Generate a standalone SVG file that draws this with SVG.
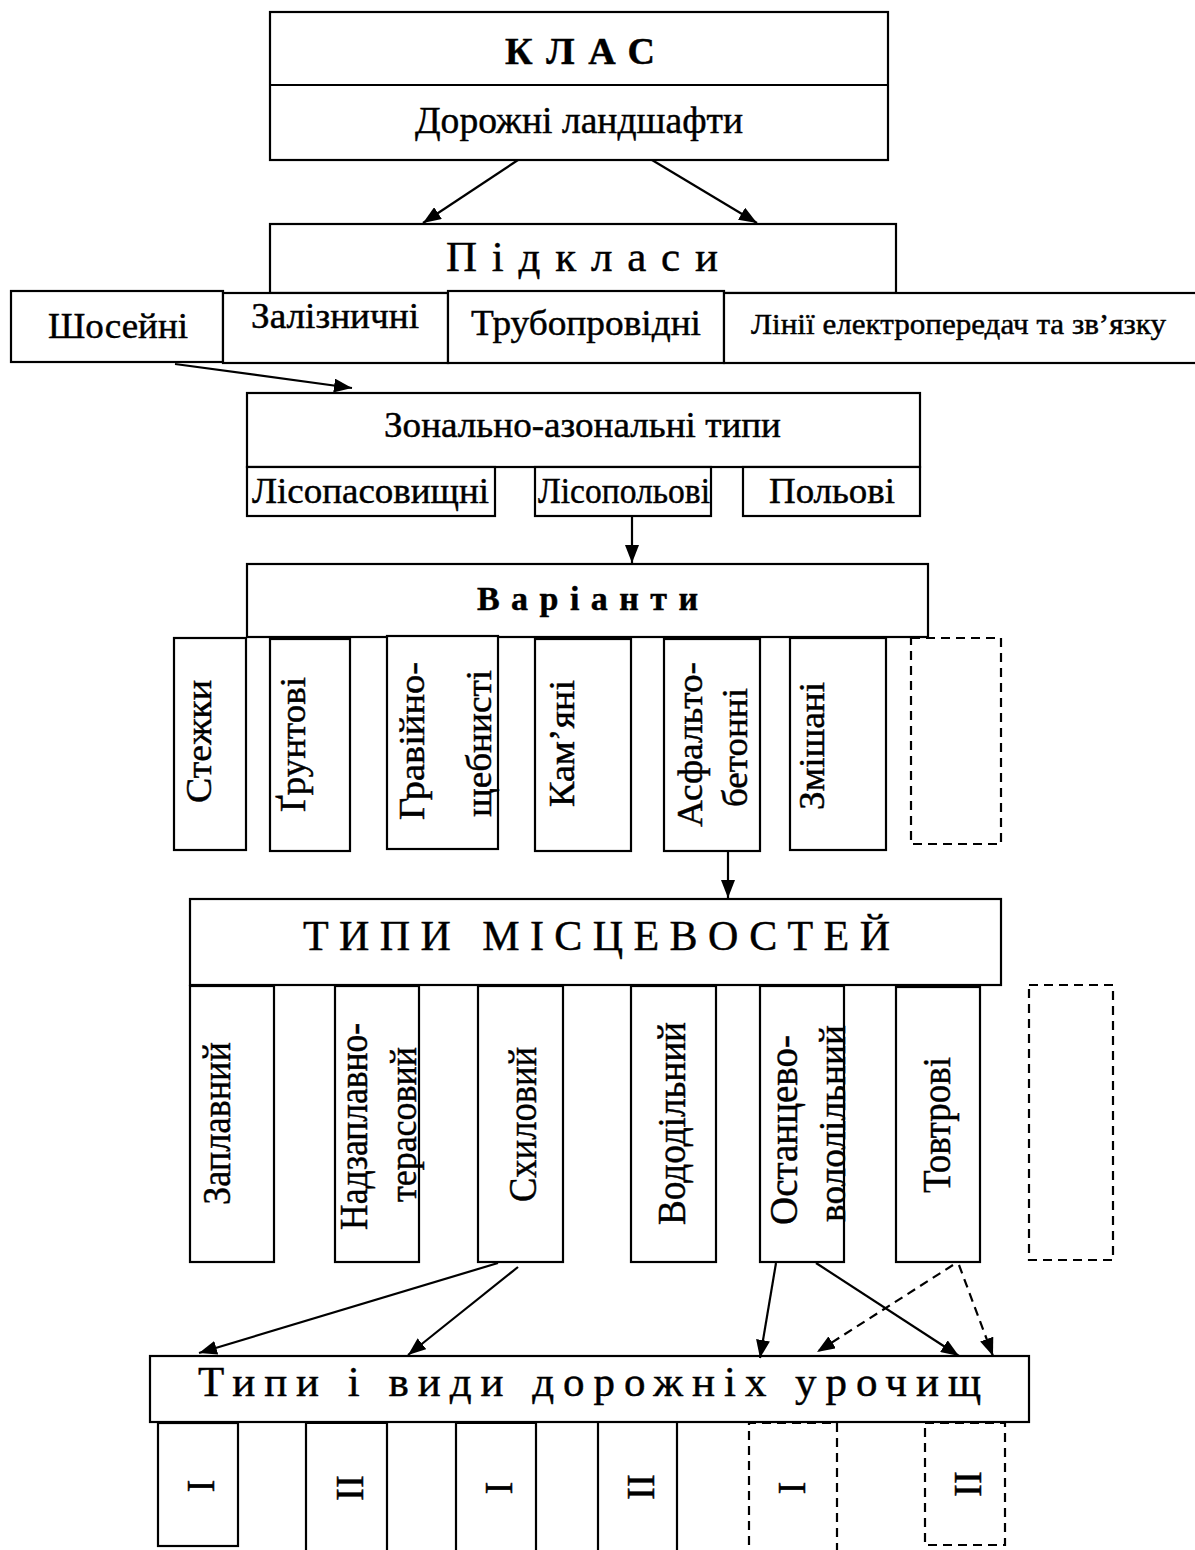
<svg xmlns="http://www.w3.org/2000/svg" width="1195" height="1550" viewBox="0 0 1195 1550">
  <style>
    .box { fill: #fff; stroke: #000; stroke-width: 2.2; }
    .dbox { fill: none; stroke: #000; stroke-width: 2.2; stroke-dasharray: 9 6; }
    .edge { fill: none; stroke: #000; stroke-width: 2.2; }
    .dedge { fill: none; stroke: #000; stroke-width: 2.2; stroke-dasharray: 9 6; }
    text { font-family: "Liberation Serif", "Times New Roman", serif; fill: #000; stroke: #000; stroke-width: 0.45; }
    .b { font-weight: bold; }
  </style>
  <defs>
    <marker id="ah" viewBox="0 0 18 14" refX="18" refY="7" markerWidth="18" markerHeight="14" markerUnits="userSpaceOnUse" orient="auto">
      <path d="M0,0 L18,7 L0,14 Z" fill="#000"/>
    </marker>
  </defs>

  <!-- class -->
  <g id="klas">
    <rect class="box" x="270" y="12" width="618" height="148"/>
    <line class="edge" x1="270" y1="85" x2="888" y2="85"/>
    <text class="b" x="505" y="64" font-size="38" letter-spacing="8" textLength="158" lengthAdjust="spacing">КЛАС</text>
    <text x="415" y="133" font-size="38" textLength="328" lengthAdjust="spacingAndGlyphs">Дорожні ландшафти</text>
  </g>

  <!-- subclasses -->
  <g id="pidklasy">
    <rect class="box" x="270" y="224" width="626" height="69"/>
    <text x="446" y="271" font-size="43" letter-spacing="12" textLength="284" lengthAdjust="spacing">Підкласи</text>
  </g>
  <g id="shoseini">
    <rect class="box" x="11" y="291" width="212" height="71"/>
    <text x="48" y="338" font-size="36" textLength="140" lengthAdjust="spacingAndGlyphs">Шосейні</text>
  </g>
  <g id="zaliznychni">
    <rect class="box" x="223" y="293" width="225" height="70"/>
    <text x="251" y="328" font-size="35" textLength="168" lengthAdjust="spacingAndGlyphs">Залізничні</text>
  </g>
  <g id="truboprovidni">
    <rect class="box" x="448" y="291" width="276" height="72"/>
    <text x="471" y="335" font-size="36" textLength="230" lengthAdjust="spacingAndGlyphs">Трубопровідні</text>
  </g>
  <g id="linii">
    <rect class="box" x="724" y="293" width="480" height="70"/>
    <text x="751" y="334" font-size="29" textLength="415" lengthAdjust="spacingAndGlyphs">Лінії електропередач та зв’язку</text>
  </g>

  <!-- zonal-azonal types -->
  <g id="zonalni">
    <rect class="box" x="247" y="393" width="673" height="74"/>
    <text x="384" y="437" font-size="36" textLength="397" lengthAdjust="spacingAndGlyphs">Зонально-азональні типи</text>
  </g>
  <g id="lisopasovyshchni">
    <rect class="box" x="247" y="467" width="248" height="49"/>
    <text x="252" y="503" font-size="36" textLength="237" lengthAdjust="spacingAndGlyphs">Лісопасовищні</text>
  </g>
  <g id="lisopolovi">
    <rect class="box" x="535" y="467" width="176" height="49"/>
    <text x="538" y="503" font-size="36" textLength="172" lengthAdjust="spacingAndGlyphs">Лісопольові</text>
  </g>
  <g id="polovi">
    <rect class="box" x="743" y="467" width="177" height="49"/>
    <text x="769" y="503" font-size="36" textLength="126" lengthAdjust="spacingAndGlyphs">Польові</text>
  </g>

  <!-- variants -->
  <g id="varianty">
    <rect class="box" x="247" y="564" width="681" height="73"/>
    <text class="b" x="477" y="610" font-size="34" letter-spacing="6" textLength="227" lengthAdjust="spacing">Варіанти</text>
  </g>
  <g id="stezhky">
    <rect class="box" x="174" y="638" width="72" height="212"/>
    <text transform="translate(211,803) rotate(-90)" font-size="36" textLength="123" lengthAdjust="spacingAndGlyphs">Стежки</text>
  </g>
  <g id="gruntovi">
    <rect class="box" x="270" y="639" width="80" height="212"/>
    <text transform="translate(305,812) rotate(-90)" font-size="36" textLength="135" lengthAdjust="spacingAndGlyphs">Ґрунтові</text>
  </g>
  <g id="graviino">
    <rect class="box" x="387" y="636" width="111" height="213"/>
    <text transform="translate(424,820) rotate(-90)" font-size="36" textLength="158" lengthAdjust="spacingAndGlyphs">Гравійно-</text>
    <text transform="translate(491,817) rotate(-90)" font-size="36" textLength="147" lengthAdjust="spacingAndGlyphs">щебнисті</text>
  </g>
  <g id="kamiani">
    <rect class="box" x="535" y="639" width="96" height="212"/>
    <text transform="translate(574,807) rotate(-90)" font-size="36" textLength="127" lengthAdjust="spacingAndGlyphs">Кам’яні</text>
  </g>
  <g id="asfalto">
    <rect class="box" x="664" y="639" width="96" height="212"/>
    <text transform="translate(702,827) rotate(-90)" font-size="36" textLength="165" lengthAdjust="spacingAndGlyphs">Асфальто-</text>
    <text transform="translate(747,807) rotate(-90)" font-size="36" textLength="119" lengthAdjust="spacingAndGlyphs">бетонні</text>
  </g>
  <g id="zmishani">
    <rect class="box" x="790" y="638" width="96" height="212"/>
    <text transform="translate(824,810) rotate(-90)" font-size="36" textLength="128" lengthAdjust="spacingAndGlyphs">Змішані</text>
  </g>
  <g id="variant-extra">
    <rect class="dbox" x="911" y="638" width="90" height="206"/>
  </g>

  <!-- terrain types -->
  <g id="typy-mistsevostei">
    <rect class="box" x="190" y="899" width="811" height="86"/>
    <text x="303" y="950" font-size="42" letter-spacing="8" textLength="595" lengthAdjust="spacing">ТИПИ МІСЦЕВОСТЕЙ</text>
  </g>
  <g id="zaplavnyi">
    <rect class="box" x="190" y="986" width="84" height="276"/>
    <text transform="translate(230,1205) rotate(-90)" font-size="40" textLength="163" lengthAdjust="spacingAndGlyphs">Заплавний</text>
  </g>
  <g id="nadzaplavno">
    <rect class="box" x="335" y="986" width="84" height="276"/>
    <text transform="translate(367,1230) rotate(-90)" font-size="40" textLength="207" lengthAdjust="spacingAndGlyphs">Надзаплавно-</text>
    <text transform="translate(416,1202) rotate(-90)" font-size="38" textLength="155" lengthAdjust="spacingAndGlyphs">терасовий</text>
  </g>
  <g id="skhylovyi">
    <rect class="box" x="478" y="986" width="85" height="276"/>
    <text transform="translate(536,1202) rotate(-90)" font-size="40" textLength="155" lengthAdjust="spacingAndGlyphs">Схиловий</text>
  </g>
  <g id="vododilnyi">
    <rect class="box" x="631" y="986" width="85" height="276"/>
    <text transform="translate(685,1225) rotate(-90)" font-size="40" textLength="203" lengthAdjust="spacingAndGlyphs">Вододільний</text>
  </g>
  <g id="ostantsevo">
    <rect class="box" x="760" y="986" width="84" height="276"/>
    <text transform="translate(797,1225) rotate(-90)" font-size="40" textLength="190" lengthAdjust="spacingAndGlyphs">Останцево-</text>
    <text transform="translate(845,1222) rotate(-90)" font-size="38" textLength="197" lengthAdjust="spacingAndGlyphs">вололільний</text>
  </g>
  <g id="tovtrovi">
    <rect class="box" x="896" y="987" width="84" height="275"/>
    <text transform="translate(950,1193) rotate(-90)" font-size="40" textLength="136" lengthAdjust="spacingAndGlyphs">Товтрові</text>
  </g>
  <g id="type-extra">
    <rect class="dbox" x="1029" y="985" width="84" height="275"/>
  </g>

  <!-- road tracts -->
  <g id="urochyshcha">
    <rect class="box" x="150" y="1356" width="879" height="66"/>
    <text x="198" y="1396" font-size="43" letter-spacing="12" textLength="795" lengthAdjust="spacing">Типи і види дорожніх урочищ</text>
  </g>
  <g id="u1">
    <rect class="box" x="158" y="1423" width="80" height="123"/>
    <text transform="translate(214,1486) rotate(-90)" font-size="39" text-anchor="middle">I</text>
  </g>
  <g id="u2">
    <path class="edge" d="M306,1560 V1423 H387 V1560"/>
    <text transform="translate(363,1488) rotate(-90)" font-size="39" text-anchor="middle">II</text>
  </g>
  <g id="u3">
    <path class="edge" d="M456,1560 V1423 H536 V1560"/>
    <text transform="translate(512,1488) rotate(-90)" font-size="39" text-anchor="middle">I</text>
  </g>
  <g id="u4">
    <path class="edge" d="M598,1560 V1422 M677,1422 V1560"/>
    <text transform="translate(654,1487) rotate(-90)" font-size="39" text-anchor="middle">II</text>
  </g>
  <g id="u5">
    <path class="dedge" d="M749,1560 V1423 H837 V1560"/>
    <text transform="translate(805,1488) rotate(-90)" font-size="39" text-anchor="middle">I</text>
  </g>
  <g id="u6">
    <rect class="dbox" x="925" y="1423" width="80" height="122"/>
    <text transform="translate(981,1484) rotate(-90)" font-size="39" text-anchor="middle">II</text>
  </g>

  <!-- connectors -->
  <g id="connectors">
    <line class="edge" x1="518" y1="160" x2="423" y2="223" marker-end="url(#ah)"/>
    <line class="edge" x1="652" y1="160" x2="757" y2="223" marker-end="url(#ah)"/>
    <line class="edge" x1="175" y1="364" x2="352" y2="388" marker-end="url(#ah)"/>
    <line class="edge" x1="632" y1="516" x2="632" y2="563" marker-end="url(#ah)"/>
    <line class="edge" x1="728" y1="851" x2="728" y2="898" marker-end="url(#ah)"/>
    <line class="edge" x1="498" y1="1263" x2="199" y2="1353" marker-end="url(#ah)"/>
    <line class="edge" x1="518" y1="1267" x2="408" y2="1355" marker-end="url(#ah)"/>
    <line class="edge" x1="776" y1="1263" x2="760" y2="1358" marker-end="url(#ah)"/>
    <line class="edge" x1="816" y1="1263" x2="959" y2="1356" marker-end="url(#ah)"/>
    <line class="dedge" x1="953" y1="1265" x2="817" y2="1352" marker-end="url(#ah)"/>
    <line class="dedge" x1="959" y1="1265" x2="993" y2="1356" marker-end="url(#ah)"/>
  </g>
</svg>
